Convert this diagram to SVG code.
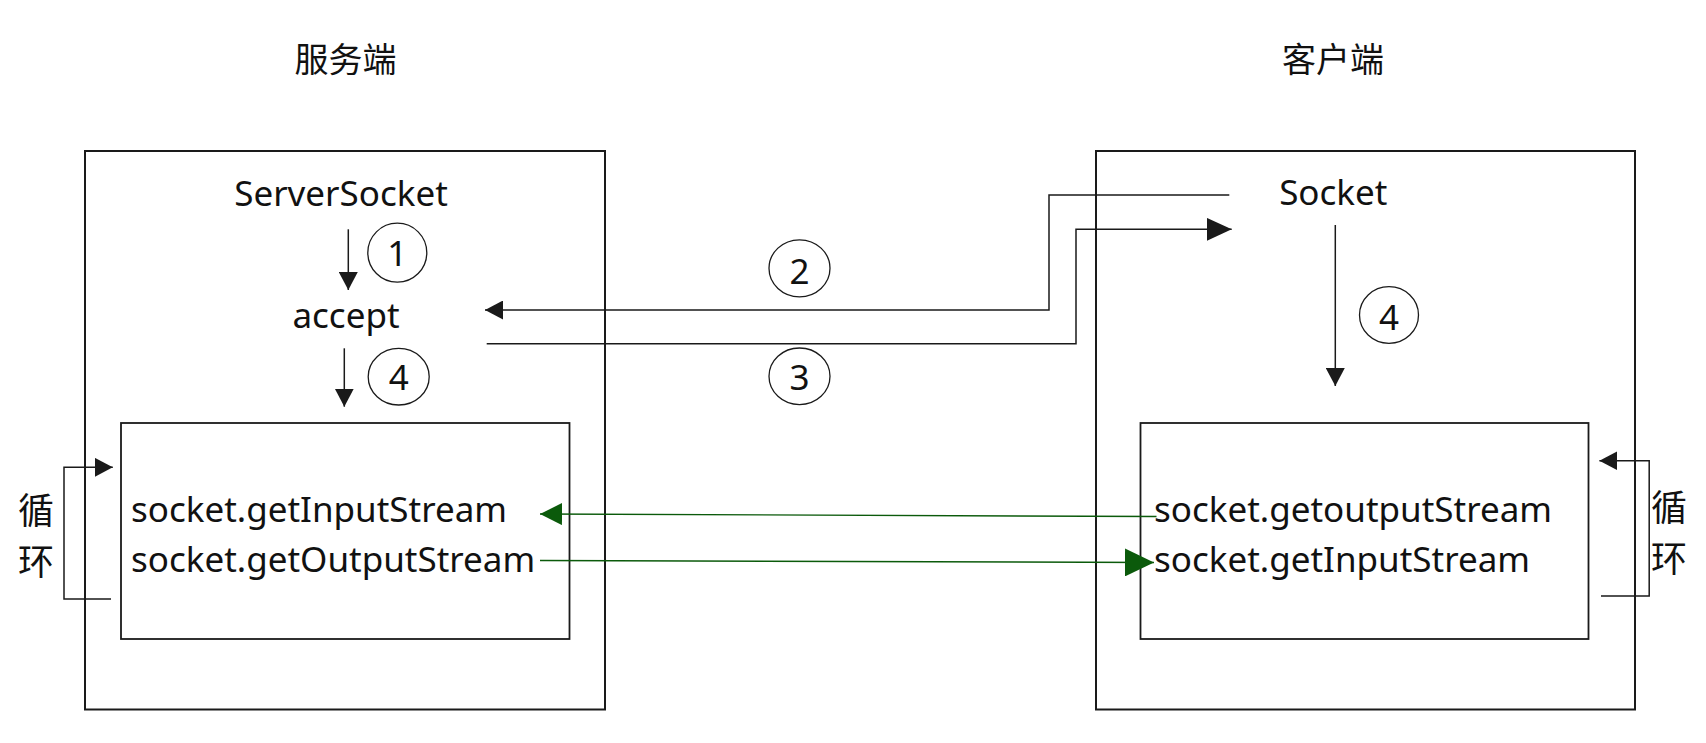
<svg xmlns="http://www.w3.org/2000/svg" width="1706" height="743" viewBox="0 0 1706 743">
<style>
.box{fill:none;stroke:#1a1a1a;stroke-width:2}
.inner{fill:none;stroke:#1a1a1a;stroke-width:1.8}
.conn{fill:none;stroke:#1a1a1a;stroke-width:1.5}
.green{fill:none;stroke:#0b5a0b;stroke-width:1.4}
.num{fill:none;stroke:#1a1a1a;stroke-width:1.3}
.t{font-family:"Noto Sans","Open Sans","Liberation Sans",sans-serif;font-size:35px;fill:#111}
.cjk{font-family:"Noto Sans CJK SC","Noto Sans",sans-serif;fill:#111}
.mid{text-anchor:middle}
</style>
<defs>
<marker id="ah" viewBox="0 0 18 19" refX="18" refY="9.5" markerWidth="18" markerHeight="19" markerUnits="userSpaceOnUse" orient="auto"><path d="M0,0 L18,9.5 L0,19 z" fill="#1a1a1a"/></marker>
<marker id="ahL" viewBox="0 0 25 23" refX="25" refY="11.5" markerWidth="25" markerHeight="23" markerUnits="userSpaceOnUse" orient="auto"><path d="M0,0 L25,11.5 L0,23 z" fill="#1a1a1a"/></marker>
<marker id="ag" viewBox="0 0 22 22" refX="22" refY="11" markerWidth="22" markerHeight="22" markerUnits="userSpaceOnUse" orient="auto"><path d="M0,0 L22,11 L0,22 z" fill="#0b5a0b"/></marker>
<marker id="agL" viewBox="0 0 29 28" refX="29" refY="14" markerWidth="29" markerHeight="28" markerUnits="userSpaceOnUse" orient="auto"><path d="M0,0 L29,14 L0,28 z" fill="#0b5a0b"/></marker>
</defs>
<rect width="1706" height="743" fill="#fff"/>

<text class="cjk mid" x="345.5" y="72" font-size="34">服务端</text>
<text class="cjk mid" x="1333" y="72" font-size="34">客户端</text>

<g id="server">
<rect class="box" x="85" y="151" width="520" height="558.5"/>
<text class="t mid" x="341" y="206">ServerSocket</text>
<text class="t mid" x="346" y="328">accept</text>
</g>
<g id="server-streams">
<rect class="inner" x="121" y="423" width="448.5" height="216"/>
<text class="t" x="131" y="521.5">socket.getInputStream</text>
<text class="t" x="131" y="572">socket.getOutputStream</text>
</g>
<g id="server-loop-label">
<text class="cjk mid" x="36" y="524" font-size="36">循</text>
<text class="cjk mid" x="36" y="575" font-size="36">环</text>
</g>

<g id="client">
<rect class="box" x="1096" y="151" width="539" height="558.5"/>
<text class="t mid" x="1333.3" y="205">Socket</text>
</g>
<g id="client-streams">
<rect class="inner" x="1140.5" y="423" width="448" height="216"/>
<text class="t" x="1154" y="521.5">socket.getoutputStream</text>
<text class="t" x="1154" y="572">socket.getInputStream</text>
</g>
<g id="client-loop-label">
<text class="cjk mid" x="1669" y="521" font-size="36">循</text>
<text class="cjk mid" x="1669" y="572" font-size="36">环</text>
</g>

<g id="step-labels">
<ellipse class="num" cx="397.3" cy="252.7" rx="29.5" ry="29.5"/>
<text class="t mid" x="397.3" y="266">1</text>
<ellipse class="num" cx="398.7" cy="376.7" rx="30.5" ry="28.3"/>
<text class="t mid" x="398.7" y="390">4</text>
<ellipse class="num" cx="799.5" cy="268.3" rx="30.5" ry="28.5"/>
<text class="t mid" x="799.5" y="284.3">2</text>
<ellipse class="num" cx="799.5" cy="376.3" rx="30.5" ry="28.3"/>
<text class="t mid" x="799.5" y="390">3</text>
<ellipse class="num" cx="1389" cy="315" rx="29.5" ry="28.3"/>
<text class="t mid" x="1389" y="329.5">4</text>
</g>

<g id="connectors">
<line class="conn" x1="348.3" y1="229.3" x2="348.3" y2="290" marker-end="url(#ah)"/>
<line class="conn" x1="344.3" y1="348.3" x2="344.3" y2="406.7" marker-end="url(#ah)"/>
<line class="conn" x1="1335.3" y1="225" x2="1335.3" y2="386" marker-end="url(#ah)"/>
<polyline class="conn" points="1229.3,195 1049,195 1049,310 485,310" marker-end="url(#ah)"/>
<polyline class="conn" points="486.7,343.7 1076,343.7 1076,229.3 1231.7,229.3" marker-end="url(#ahL)"/>
<polyline class="conn" points="111,599 64,599 64,467.3 112.8,467.3" marker-end="url(#ah)"/>
<polyline class="conn" points="1601,596 1649.2,596 1649.2,460.7 1599.4,460.7" marker-end="url(#ah)"/>
<line class="green" x1="1156.5" y1="516.5" x2="540" y2="514" marker-end="url(#ag)"/>
<line class="green" x1="540" y1="560.5" x2="1154" y2="562.5" marker-end="url(#agL)"/>
</g>
</svg>
